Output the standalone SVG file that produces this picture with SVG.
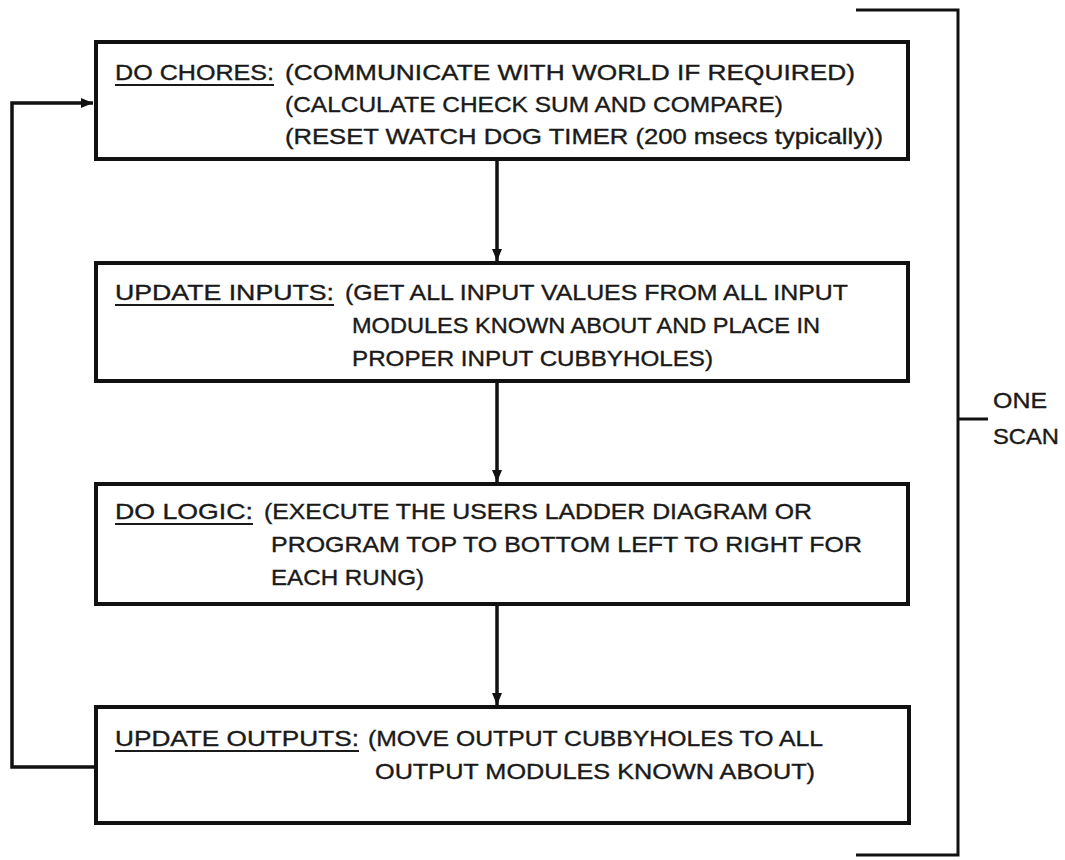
<svg xmlns="http://www.w3.org/2000/svg" width="1065" height="860" viewBox="0 0 1065 860">
<defs>
<style>
.box{fill:#fff;stroke:#111;stroke-width:4}
.t{font-family:"Liberation Sans",Arial,sans-serif;font-size:21.5px;fill:#1a1a1a;stroke:#1a1a1a;stroke-width:0.35}
.ul{stroke:#1a1a1a;stroke-width:2.2}
.c{fill:none;stroke:#111;stroke-width:3.5}
.br{fill:none;stroke:#111;stroke-width:3}
</style>
<marker id="ah" markerWidth="12" markerHeight="10" refX="12" refY="5" orient="auto" markerUnits="userSpaceOnUse">
<path d="M0,0 L12,5 L0,10 Z" fill="#111"/>
</marker>
</defs>
<rect width="1065" height="860" fill="#fff"/>
<g id="connectors">
<line class="c" x1="497" y1="160" x2="497" y2="261" marker-end="url(#ah)"/>
<line class="c" x1="497" y1="382" x2="497" y2="482" marker-end="url(#ah)"/>
<line class="c" x1="497" y1="606" x2="497" y2="705" marker-end="url(#ah)"/>
<path class="c" d="M95,767 H12 V103 H93" marker-end="url(#ah)"/>
</g>
<g id="chores">
<rect class="box" x="96" y="42" width="812" height="117"/>
<text class="t" x="115" y="80" textLength="159" lengthAdjust="spacingAndGlyphs">DO CHORES:</text>
<line class="ul" x1="115" y1="85" x2="274" y2="85"/>
<text class="t" x="285" y="80" textLength="570" lengthAdjust="spacingAndGlyphs">(COMMUNICATE WITH WORLD IF REQUIRED)</text>
<text class="t" x="285" y="112" textLength="498" lengthAdjust="spacingAndGlyphs">(CALCULATE CHECK SUM AND COMPARE)</text>
<text class="t" x="285" y="144" textLength="598" lengthAdjust="spacingAndGlyphs">(RESET WATCH DOG TIMER (200 msecs typically))</text>
</g>
<g id="inputs">
<rect class="box" x="96" y="263" width="812" height="118"/>
<text class="t" x="115" y="300" textLength="219" lengthAdjust="spacingAndGlyphs">UPDATE INPUTS:</text>
<line class="ul" x1="115" y1="305" x2="334" y2="305"/>
<text class="t" x="345" y="300" textLength="503" lengthAdjust="spacingAndGlyphs">(GET ALL INPUT VALUES FROM ALL INPUT</text>
<text class="t" x="352" y="333" textLength="468" lengthAdjust="spacingAndGlyphs">MODULES KNOWN ABOUT AND PLACE IN</text>
<text class="t" x="352" y="366" textLength="361" lengthAdjust="spacingAndGlyphs">PROPER INPUT CUBBYHOLES)</text>
</g>
<g id="logic">
<rect class="box" x="96" y="484" width="812" height="120"/>
<text class="t" x="115" y="519" textLength="138" lengthAdjust="spacingAndGlyphs">DO LOGIC:</text>
<line class="ul" x1="115" y1="524" x2="253" y2="524"/>
<text class="t" x="264" y="519" textLength="548" lengthAdjust="spacingAndGlyphs">(EXECUTE THE USERS LADDER DIAGRAM OR</text>
<text class="t" x="271" y="552" textLength="591" lengthAdjust="spacingAndGlyphs">PROGRAM TOP TO BOTTOM LEFT TO RIGHT FOR</text>
<text class="t" x="271" y="585" textLength="153" lengthAdjust="spacingAndGlyphs">EACH RUNG)</text>
</g>
<g id="outputs">
<rect class="box" x="96" y="707" width="813" height="116"/>
<text class="t" x="115" y="746" textLength="244" lengthAdjust="spacingAndGlyphs">UPDATE OUTPUTS:</text>
<line class="ul" x1="115" y1="751" x2="359" y2="751"/>
<text class="t" x="368" y="746" textLength="455" lengthAdjust="spacingAndGlyphs">(MOVE OUTPUT CUBBYHOLES TO ALL</text>
<text class="t" x="375" y="779" textLength="440" lengthAdjust="spacingAndGlyphs">OUTPUT MODULES KNOWN ABOUT)</text>
</g>
<g id="scan-bracket">
<path class="br" d="M856,10 H958 V855 H856"/>
<line class="br" x1="958" y1="419" x2="988" y2="419"/>
<text class="t" x="993" y="408" textLength="54" lengthAdjust="spacingAndGlyphs">ONE</text>
<text class="t" x="993" y="444" textLength="66" lengthAdjust="spacingAndGlyphs">SCAN</text>
</g>
</svg>
